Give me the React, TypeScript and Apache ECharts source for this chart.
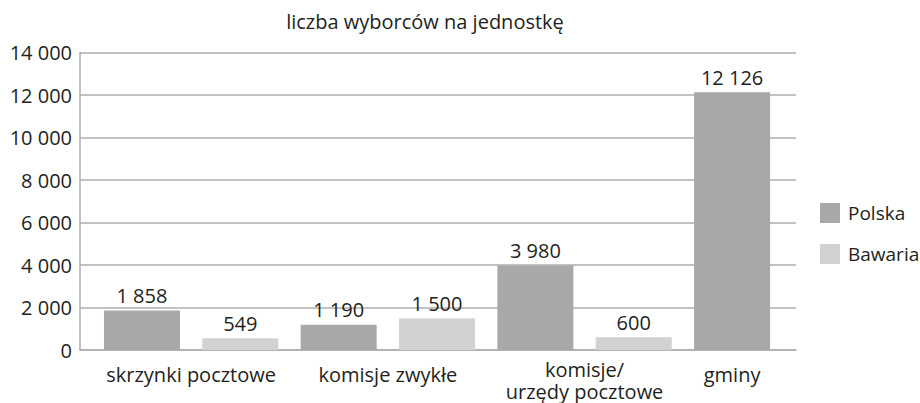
import React, { useEffect, useRef } from "react";
import * as echarts from "echarts";

const categories = ["skrzynki pocztowe", "komisje zwykłe", "komisje/\nurzędy pocztowe", "gminy"];
const seriesNames = ["Polska", "Bawaria"];
const polska: (number | null)[] = [1858, 1190, 3980, 12126];
const bawaria: (number | null)[] = [549, 1500, 600, null];
const yTicks = [0, 2000, 4000, 6000, 8000, 10000, 12000, 14000];
const title = "liczba wyborców na jednostkę";

const FONT = "Open Sans";
const FS = 20;
const TEXT = "#231f20";
const GRID = "#aeaeae";

const fmt = (v: number) => String(v).replace(/\B(?=(\d{3})+(?!\d))/g, " ");

export default function App() {
  const ref = useRef<HTMLDivElement>(null);
  useEffect(() => {
    if (!ref.current) return;
    const chart = echarts.init(ref.current, undefined, { renderer: "svg" });
    // slot positions: each category occupies two slots (Polska, Bawaria)
    const polskaData = polska.map((v, i) => [2 * i, v]);
    const bawariaData = bawaria
      .map((v, i) => [2 * i + 1, v])
      .filter((d) => d[1] !== null);
    const labelPos = categories.map((_, i) => (bawaria[i] !== null ? 2 * i + 0.5 : 2 * i));
    const labelMap: Record<string, string> = {};
    labelPos.forEach((p, i) => (labelMap[String(p)] = categories[i]));

    const dataLabel = {
      show: true,
      position: "top",
      distance: 5,
      formatter: (p: any) => fmt(p.value[1]),
      fontFamily: FONT,
      fontSize: FS,
      color: TEXT,
    };

    chart.setOption({
      animation: false,
      textStyle: { fontFamily: FONT, color: TEXT },
      title: {
        text: title,
        left: 425,
        top: 11,
        padding: 0,
        textAlign: "center",
        textStyle: { fontFamily: FONT, fontSize: FS, fontWeight: "normal", color: TEXT },
      },
      legend: {
        orient: "vertical",
        left: 815,
        top: 198,
        itemWidth: 20,
        itemHeight: 20,
        itemGap: 21,
        icon: "rect",
        data: seriesNames,
        textStyle: { fontFamily: FONT, fontSize: 19, color: TEXT, padding: [0, 0, 0, 3] },
      },
      grid: { left: 80, right: 124, top: 52.5, bottom: 53, containLabel: false },
      xAxis: {
        type: "value",
        min: -0.63,
        max: 6.65,
        splitLine: { show: false },
        axisTick: { show: false },
        axisLine: { show: true, onZero: false, lineStyle: { color: GRID, width: 1.5 } },
        axisLabel: {
          customValues: labelPos,
          formatter: (v: number) => {
            const s = labelMap[String(v)] ?? "";
            return s.includes("\n") ? s : `{one|${s}}`;
          },
          fontFamily: FONT,
          fontSize: FS,
          color: TEXT,
          margin: 8,
          lineHeight: 22,
          rich: {
            one: { fontFamily: FONT, fontSize: FS, color: TEXT, lineHeight: 32 },
          },
        },
      },
      yAxis: {
        type: "value",
        min: yTicks[0],
        max: yTicks[yTicks.length - 1],
        interval: 2000,
        axisLine: { show: true, onZero: false, lineStyle: { color: GRID, width: 1.5 } },
        axisTick: { show: false },
        splitLine: { show: true, lineStyle: { color: GRID, width: 1.5 } },
        axisLabel: {
          formatter: (v: number) => fmt(v),
          fontFamily: FONT,
          fontSize: FS,
          color: TEXT,
          margin: 8,
          padding: [0, 0, 5, 0],
        },
      },
      series: [
        {
          name: seriesNames[0],
          type: "bar",
          data: polskaData,
          barWidth: 76,
          barGap: "-100%",
          itemStyle: { color: "#a7a8aa" },
          label: dataLabel,
        },
        {
          name: seriesNames[1],
          type: "bar",
          data: bawariaData,
          barWidth: 76,
          barGap: "-100%",
          itemStyle: { color: "#d1d2d4" },
          label: dataLabel,
        },
      ],
    });
    return () => chart.dispose();
  }, []);
  return (
    <div
      ref={ref}
      style={{ position: "fixed", left: 0, top: 0, width: 920, height: 403, background: "#fff" }}
    />
  );
}
